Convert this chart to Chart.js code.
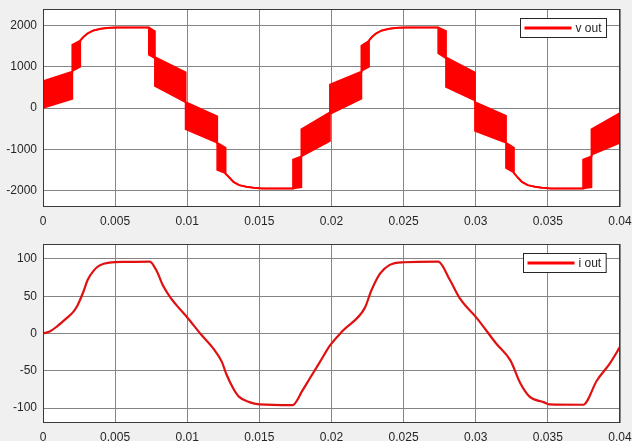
<!DOCTYPE html>
<html>
<head>
<meta charset="utf-8">
<script src="https://cdn.jsdelivr.net/npm/chart.js@4.4.0/dist/chart.umd.min.js"></script>
<style>
  html, body { margin: 0; padding: 0; background: #f0f0f0; }
  #wrap { position: relative; width: 632px; height: 441px; overflow: hidden; }
  canvas { position: absolute; left: 0; }
  #vChart { top: 0; }
  #iChart { top: 230px; }
</style>
</head>
<body>
<div id="wrap">
  <canvas id="vChart" width="632" height="230"></canvas>
  <canvas id="iChart" width="632" height="211"></canvas>
</div>
<script>
// Output voltage: switching band described by its upper and lower envelope (V).
// Repeated times mark the vertical steps between voltage levels.
const vTime = [
  0, 0.00204, 0.00204, 0.00259, 0.00259,
  0.0028, 0.0031, 0.0035, 0.0040, 0.0046, 0.0052, 0.00733,
  0.00733, 0.00775, 0.00775, 0.00988, 0.00988, 0.01207, 0.01207, 0.01265, 0.01265,
  0.0129, 0.0132, 0.0136, 0.0141, 0.0146, 0.0152, 0.01734,
  0.01734, 0.01792, 0.01792, 0.0199, 0.0199, 0.02208, 0.02208, 0.02261, 0.02261,
  0.0228, 0.0231, 0.0235, 0.0240, 0.0246, 0.0252, 0.02739,
  0.02739, 0.02793, 0.02793, 0.02994, 0.02994, 0.03209, 0.03209, 0.03264, 0.03264,
  0.0329, 0.0332, 0.0336, 0.0341, 0.0346, 0.0352, 0.03745,
  0.03745, 0.03803, 0.03803, 0.0400
];
const vUpper = [
  650, 878, 1533, 1631, 1640,
  1720, 1810, 1880, 1920, 1943, 1950, 1950,
  1950, 1862, 1230, 861, 140, -204, -844, -967, -1590,
  -1680, -1790, -1870, -1911, -1935, -1950, -1950,
  -1255, -1173, -517, -106, 566, 878, 1508, 1631, 1640,
  1720, 1810, 1880, 1920, 1943, 1950, 1950,
  1950, 1862, 1230, 861, 140, -189, -844, -967, -1575,
  -1680, -1790, -1870, -1911, -1935, -1950, -1950,
  -1255, -1173, -517, -123
];
const vLower = [
  0, 221, 893, 1000, 1640,
  1720, 1810, 1880, 1920, 1943, 1950, 1950,
  1287, 1205, 534, 140, -517, -844, -1500, -1582, -1590,
  -1680, -1790, -1870, -1911, -1935, -1950, -1950,
  -1950, -1926, -1173, -804, -148, 221, 893, 1000, 1640,
  1720, 1810, 1880, 1920, 1943, 1950, 1950,
  1328, 1205, 509, 180, -558, -844, -1459, -1566, -1575,
  -1680, -1790, -1870, -1911, -1935, -1950, -1950,
  -1950, -1926, -1132, -844
];

// Output current (A)
const iTime = [
  0, 0.0005, 0.0010, 0.0016, 0.0021, 0.0024, 0.0028, 0.0031, 0.0035, 0.0039,
  0.0046, 0.0058, 0.0074, 0.0079, 0.0083, 0.0088, 0.00925, 0.0100, 0.0109,
  0.0118, 0.0124, 0.0127, 0.0132, 0.0136, 0.0143, 0.0150, 0.0173, 0.0180,
  0.0185, 0.0192, 0.0199, 0.0208, 0.0223, 0.02277, 0.02335, 0.02404, 0.0250,
  0.0274, 0.0282, 0.0289, 0.0301, 0.0314, 0.0324, 0.0331, 0.03375, 0.0347,
  0.0351, 0.03745, 0.0384, 0.0393, 0.0400
];
const iOut = [
  0, 3, 10, 20, 29, 38, 56, 72, 84, 91,
  95, 96, 96.5, 83, 65, 49, 38, 21.5, 0,
  -20, -38, -54, -74, -85, -92, -95, -96, -76,
  -60, -38, -16, 4, 34, 58, 80, 92, 95.5,
  96.3, 72, 47, 20, -13, -36, -67, -85, -92,
  -95, -95.5, -63, -40, -18
];

// Axis ticks
const timeTicks = [0, 0.005, 0.01, 0.015, 0.02, 0.025, 0.03, 0.035, 0.04];
const vTicks = [-2000, -1000, 0, 1000, 2000];
const iTicks = [-100, -50, 0, 50, 100];

const RED = '#ff0000';
const GRID = '#858585';
const TEXT = '#262626';

Chart.defaults.font.family = "'Liberation Sans', Arial, Helvetica, sans-serif";
Chart.defaults.font.size = 12;
Chart.defaults.color = TEXT;

const toPoints = (xs, ys) => xs.map((x, k) => ({ x: x, y: ys[k] }));
const fmt = v => String(+Number(v).toFixed(4));
const noPad = s => { s.paddingLeft = 0; s.paddingRight = 0; s.paddingTop = 0; s.paddingBottom = 0; };

// White plot area, dark box around it, and a boxed legend in the upper right corner
const axesBox = {
  id: 'axesBox',
  beforeDraw(chart) {
    const a = chart.chartArea, ctx = chart.ctx;
    ctx.save();
    ctx.fillStyle = '#ffffff';
    ctx.fillRect(a.left, a.top, a.right - a.left, a.bottom - a.top);
    ctx.restore();
  },
  afterDraw(chart, args, opts) {
    const a = chart.chartArea, ctx = chart.ctx;
    ctx.save();
    ctx.strokeStyle = '#3a3a3a';
    ctx.lineWidth = 1;
    const l = Math.round(a.left) + 0.5, t = Math.round(a.top) + 0.5;
    const r = Math.round(a.right) - 0.5, b = Math.round(a.bottom) - 0.5;
    ctx.strokeRect(l, t, r - l, b - t);

    // legend
    ctx.font = "12px 'Liberation Sans', Arial, sans-serif";
    const tw = ctx.measureText(opts.label).width;
    const padL = 4, lineLen = 47, gap = 4, padR = 5, h = 19;
    const w = padL + lineLen + gap + tw + padR;
    const bx = Math.round(a.right - 14 - w) + 0.5;
    const by = Math.round(a.top + 9) + 0.5;
    ctx.fillStyle = '#ffffff';
    ctx.fillRect(bx, by, w, h);
    ctx.strokeStyle = '#262626';
    ctx.strokeRect(bx, by, w, h);
    ctx.strokeStyle = opts.color;
    ctx.lineWidth = 3;
    ctx.beginPath();
    ctx.moveTo(bx + padL, by + h / 2);
    ctx.lineTo(bx + padL + lineLen, by + h / 2);
    ctx.stroke();
    ctx.fillStyle = TEXT;
    ctx.textBaseline = 'middle';
    ctx.textAlign = 'left';
    ctx.fillText(opts.label, bx + padL + lineLen + gap, by + h / 2 + 0.5);
    ctx.restore();
  }
};

function axes(yMin, yMax, yTickList, xHeight) {
  return {
    x: {
      type: 'linear', min: 0, max: 0.04,
      afterBuildTicks: s => { s.ticks = timeTicks.map(v => ({ value: v })); },
      afterFit: s => { s.height = xHeight; noPad(s); },
      ticks: { padding: 7, maxRotation: 0, autoSkip: false, callback: fmt },
      grid: { color: GRID, lineWidth: 1, drawTicks: false },
      border: { display: false }
    },
    y: {
      type: 'linear', min: yMin, max: yMax,
      afterBuildTicks: s => { s.ticks = yTickList.map(v => ({ value: v })); },
      afterFit: s => { s.width = 43; noPad(s); },
      ticks: { padding: 6, autoSkip: false, callback: fmt },
      grid: { color: GRID, lineWidth: 1, drawTicks: false },
      border: { display: false }
    }
  };
}

new Chart(document.getElementById('vChart'), {
  type: 'line',
  data: {
    datasets: [
      { label: 'v out', data: toPoints(vTime, vLower), borderColor: RED, borderWidth: 1.5,
        pointRadius: 0, fill: false },
      { label: 'v out (upper)', data: toPoints(vTime, vUpper), borderColor: RED, borderWidth: 2,
        backgroundColor: RED, pointRadius: 0, fill: '-1' }
    ]
  },
  options: {
    responsive: false, animation: false,
    layout: { padding: { top: 9, right: 12, left: 0, bottom: 0 } },
    scales: axes(-2400, 2400, vTicks, 23),
    plugins: {
      legend: { display: false }, tooltip: { enabled: false },
      axesBox: { label: 'v out', color: RED }
    }
  },
  plugins: [axesBox]
});

new Chart(document.getElementById('iChart'), {
  type: 'line',
  data: {
    datasets: [
      { label: 'i out', data: toPoints(iTime, iOut), borderColor: '#e01010', borderWidth: 2.2,
        pointRadius: 0, fill: false, cubicInterpolationMode: 'monotone' }
    ]
  },
  options: {
    responsive: false, animation: false,
    layout: { padding: { top: 14, right: 12, left: 0, bottom: 0 } },
    scales: axes(-120, 120, iTicks, 18),
    plugins: {
      legend: { display: false }, tooltip: { enabled: false },
      axesBox: { label: 'i out', color: RED }
    }
  },
  plugins: [axesBox]
});
</script>
</body>
</html>
